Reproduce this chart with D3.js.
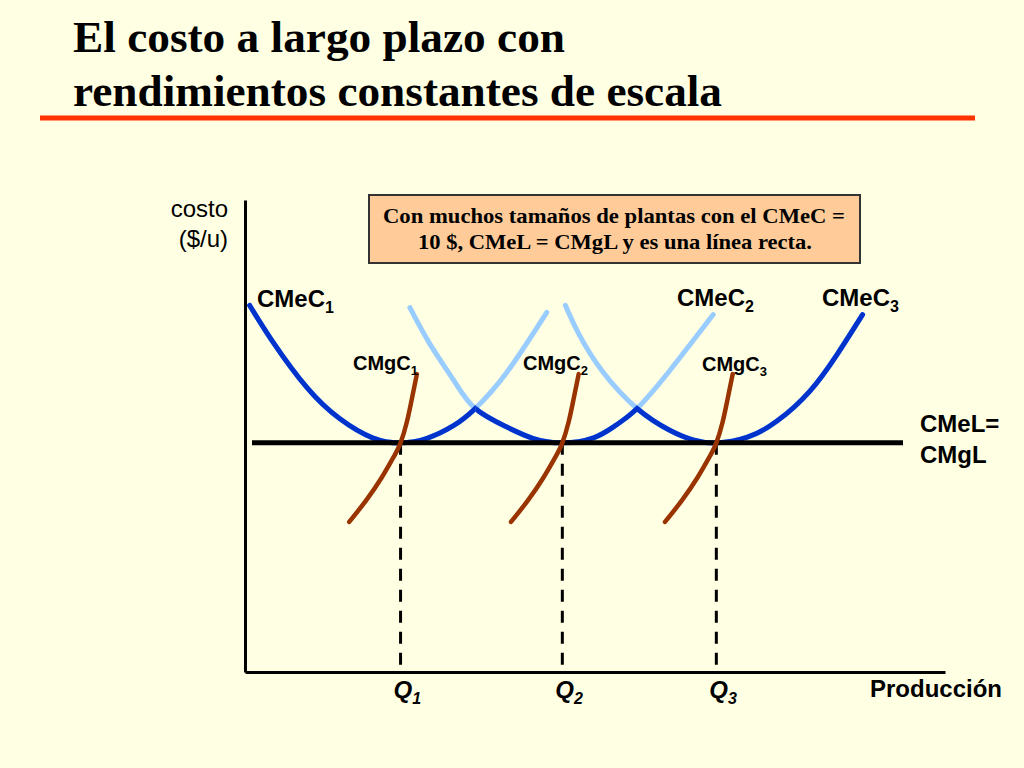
<!DOCTYPE html>
<html>
<head>
<meta charset="utf-8">
<script src="https://cdn.jsdelivr.net/npm/d3@7"></script>
<style>
  body { margin: 0; background: #ffffe3; }
  svg { display: block; }
</style>
</head>
<body>
<svg></svg>
<script>
// curve points: [output, cost]
const cmec1 = [[0.3, 16.0], [1.8, 14.4], [4.0, 12.4], [6.1, 11.05], [8.2, 10.22], [10.0, 10.0], [11.7, 10.2], [13.4, 10.75], [14.8, 11.5], [16.8, 13.05], [19.4, 15.7]];
const cmec2 = [[10.6, 15.9], [11.9, 14.3], [13.4, 12.75], [14.8, 11.5], [16.8, 10.7], [18.5, 10.2], [20.4, 10.0], [22.4, 10.22], [23.8, 10.75], [25.2, 11.5], [27.3, 13.15], [30.1, 15.6]];
const cmec3 = [[20.6, 16.0], [21.5, 14.7], [23.0, 13.1], [25.2, 11.5], [27.3, 10.55], [28.8, 10.13], [30.3, 10.0], [32.3, 10.25], [34.2, 10.95], [36.3, 12.25], [38.1, 13.9], [39.7, 15.6]];
const cmgc1 = [[6.7, 6.55], [7.8, 7.5], [8.8, 8.5], [9.57, 9.4], [10.0, 10.0], [10.4, 10.9], [10.72, 11.9], [11.05, 13.0]];
const cmgc2 = [[17.1, 6.55], [18.2, 7.5], [19.2, 8.5], [19.97, 9.4], [20.4, 10.0], [20.8, 10.9], [21.12, 11.9], [21.45, 13.0]];
const cmgc3 = [[27.0, 6.55], [28.1, 7.5], [29.1, 8.5], [29.87, 9.4], [30.3, 10.0], [30.7, 10.9], [31.02, 11.9], [31.35, 13.0]];
const cmel = [[0.45, 10], [42.3, 10]];
const quantities = [10.0, 20.4, 30.3];
const qLabels = ["1", "2", "3"];
// output where the short-run curves cross (envelope switches)
const switchPoints = [0, 14.8, 25.2, 45];
const plantLabels = ["1", "2", "3"];

const width = 1024;
const height = 768;

const svg = d3.select("svg").attr("width", width).attr("height", height);

const xScale = d3.scaleLinear().domain([0, 45]).range([245, 945]);
const yScale = d3.scaleLinear().domain([0, 20.6]).range([672, 200]);

// title
const title = svg.append("g")
  .style("font-family", "'Liberation Serif', 'Times New Roman', serif")
  .style("font-weight", "bold")
  .style("font-size", "45px")
  .attr("fill", "black");
title.append("text").attr("x", 73).attr("y", 52)
  .attr("textLength", 492).attr("lengthAdjust", "spacingAndGlyphs")
  .text("El costo a largo plazo con");
title.append("text").attr("x", 73).attr("y", 106)
  .attr("textLength", 649).attr("lengthAdjust", "spacingAndGlyphs")
  .text("rendimientos constantes de escala");

svg.append("line")
  .attr("x1", 40).attr("x2", 975).attr("y1", 118).attr("y2", 118)
  .attr("stroke", "#ff3300").attr("stroke-width", 5);

// note box
svg.append("rect")
  .attr("x", 369).attr("y", 195).attr("width", 491).attr("height", 68)
  .attr("fill", "#ffcc99").attr("stroke", "#333").attr("stroke-width", 2);
const note = svg.append("g")
  .style("font-family", "'Liberation Serif', 'Times New Roman', serif")
  .style("font-weight", "bold")
  .style("font-size", "22px")
  .attr("text-anchor", "middle");
note.append("text").attr("x", 614).attr("y", 223)
  .attr("textLength", 462).attr("lengthAdjust", "spacingAndGlyphs")
  .text("Con muchos tamaños de plantas con el CMeC =");
note.append("text").attr("x", 615).attr("y", 249)
  .attr("textLength", 394).attr("lengthAdjust", "spacingAndGlyphs")
  .text("10 $, CMeL = CMgL y es una línea recta.");

// axes without ticks
const xAxis = d3.axisBottom(xScale).tickValues([]).tickSizeOuter(0);
const yAxis = d3.axisLeft(yScale).tickValues([]).tickSizeOuter(0);
svg.append("g").attr("transform", `translate(0, ${yScale(0)})`).call(xAxis)
  .select(".domain").attr("stroke-width", 3);
svg.append("g").attr("transform", `translate(${xScale(0)}, 0)`).call(yAxis)
  .select(".domain").attr("stroke-width", 3);

const line = d3.line()
  .x((d) => xScale(d[0]))
  .y((d) => yScale(d[1]))
  .curve(d3.curveNatural);

// dashed drops to Q
svg.selectAll(".drop")
  .data(quantities)
  .enter()
  .append("line")
  .attr("class", "drop")
  .attr("x1", (d) => xScale(d)).attr("x2", (d) => xScale(d))
  .attr("y1", yScale(10)).attr("y2", yScale(0))
  .attr("stroke", "black").attr("stroke-width", 3)
  .attr("stroke-dasharray", "12,9");

const cmecs = [cmec1, cmec2, cmec3];

// light blue: full short-run curves
svg.selectAll(".cmec-light")
  .data(cmecs)
  .enter()
  .append("path")
  .attr("class", "cmec-light")
  .attr("d", line)
  .attr("fill", "none")
  .attr("stroke", "#99ccff")
  .attr("stroke-width", 5)
  .attr("stroke-linecap", "round");

// dark blue: the part that forms the envelope
const defs = svg.append("defs");
cmecs.forEach((c, i) => {
  defs.append("clipPath").attr("id", "env" + i)
    .append("rect")
    .attr("x", xScale(switchPoints[i]))
    .attr("width", xScale(switchPoints[i + 1]) - xScale(switchPoints[i]))
    .attr("y", 0).attr("height", height);
});
svg.selectAll(".cmec-dark")
  .data(cmecs)
  .enter()
  .append("path")
  .attr("class", "cmec-dark")
  .attr("d", line)
  .attr("clip-path", (d, i) => `url(#env${i})`)
  .attr("fill", "none")
  .attr("stroke", "#0033cc")
  .attr("stroke-width", 5)
  .attr("stroke-linecap", "round");

// long-run line
svg.append("path")
  .attr("d", line(cmel))
  .attr("fill", "none")
  .attr("stroke", "black")
  .attr("stroke-width", 5);

// marginal cost curves
svg.selectAll(".cmgc")
  .data([cmgc1, cmgc2, cmgc3])
  .enter()
  .append("path")
  .attr("class", "cmgc")
  .attr("d", line)
  .attr("fill", "none")
  .attr("stroke", "#993300")
  .attr("stroke-width", 4.5)
  .attr("stroke-linecap", "round");

// labels
const sans = "'Liberation Sans', Arial, Helvetica, sans-serif";

function subLabel(x, y, base, sub, size, italic) {
  const t = svg.append("text")
    .attr("x", x).attr("y", y)
    .style("font-family", sans)
    .style("font-weight", "bold")
    .style("font-style", italic ? "italic" : "normal")
    .style("font-size", size + "px")
    .attr("fill", "black");
  t.append("tspan").text(base);
  t.append("tspan")
    .attr("dy", size * 0.24)
    .style("font-size", Math.round(size * 0.66) + "px")
    .text(sub);
}

const cmecPos = [[257, 307], [677, 306], [822, 306]];
plantLabels.forEach((s, i) => subLabel(cmecPos[i][0], cmecPos[i][1], "CMeC", s, 24, false));
const cmgcPos = [[353, 370], [523, 370], [702, 371]];
plantLabels.forEach((s, i) => subLabel(cmgcPos[i][0], cmgcPos[i][1], "CMgC", s, 20, false));
quantities.forEach((q, i) => subLabel(xScale(q) - 7, 698, "Q", qLabels[i], 24, true));

svg.append("text").attr("x", 920).attr("y", 432)
  .style("font-family", sans).style("font-weight", "bold").style("font-size", "24px")
  .text("CMeL=");
svg.append("text").attr("x", 920).attr("y", 463)
  .style("font-family", sans).style("font-weight", "bold").style("font-size", "24px")
  .text("CMgL");

svg.append("text").attr("x", 1002).attr("y", 697)
  .attr("text-anchor", "end")
  .style("font-family", sans).style("font-weight", "bold").style("font-size", "24px")
  .text("Producción");

svg.append("text").attr("x", 228).attr("y", 217)
  .attr("text-anchor", "end")
  .style("font-family", sans).style("font-size", "24px")
  .text("costo");
svg.append("text").attr("x", 228).attr("y", 247)
  .attr("text-anchor", "end")
  .style("font-family", sans).style("font-size", "24px")
  .text("($/u)");
</script>
</body>
</html>
